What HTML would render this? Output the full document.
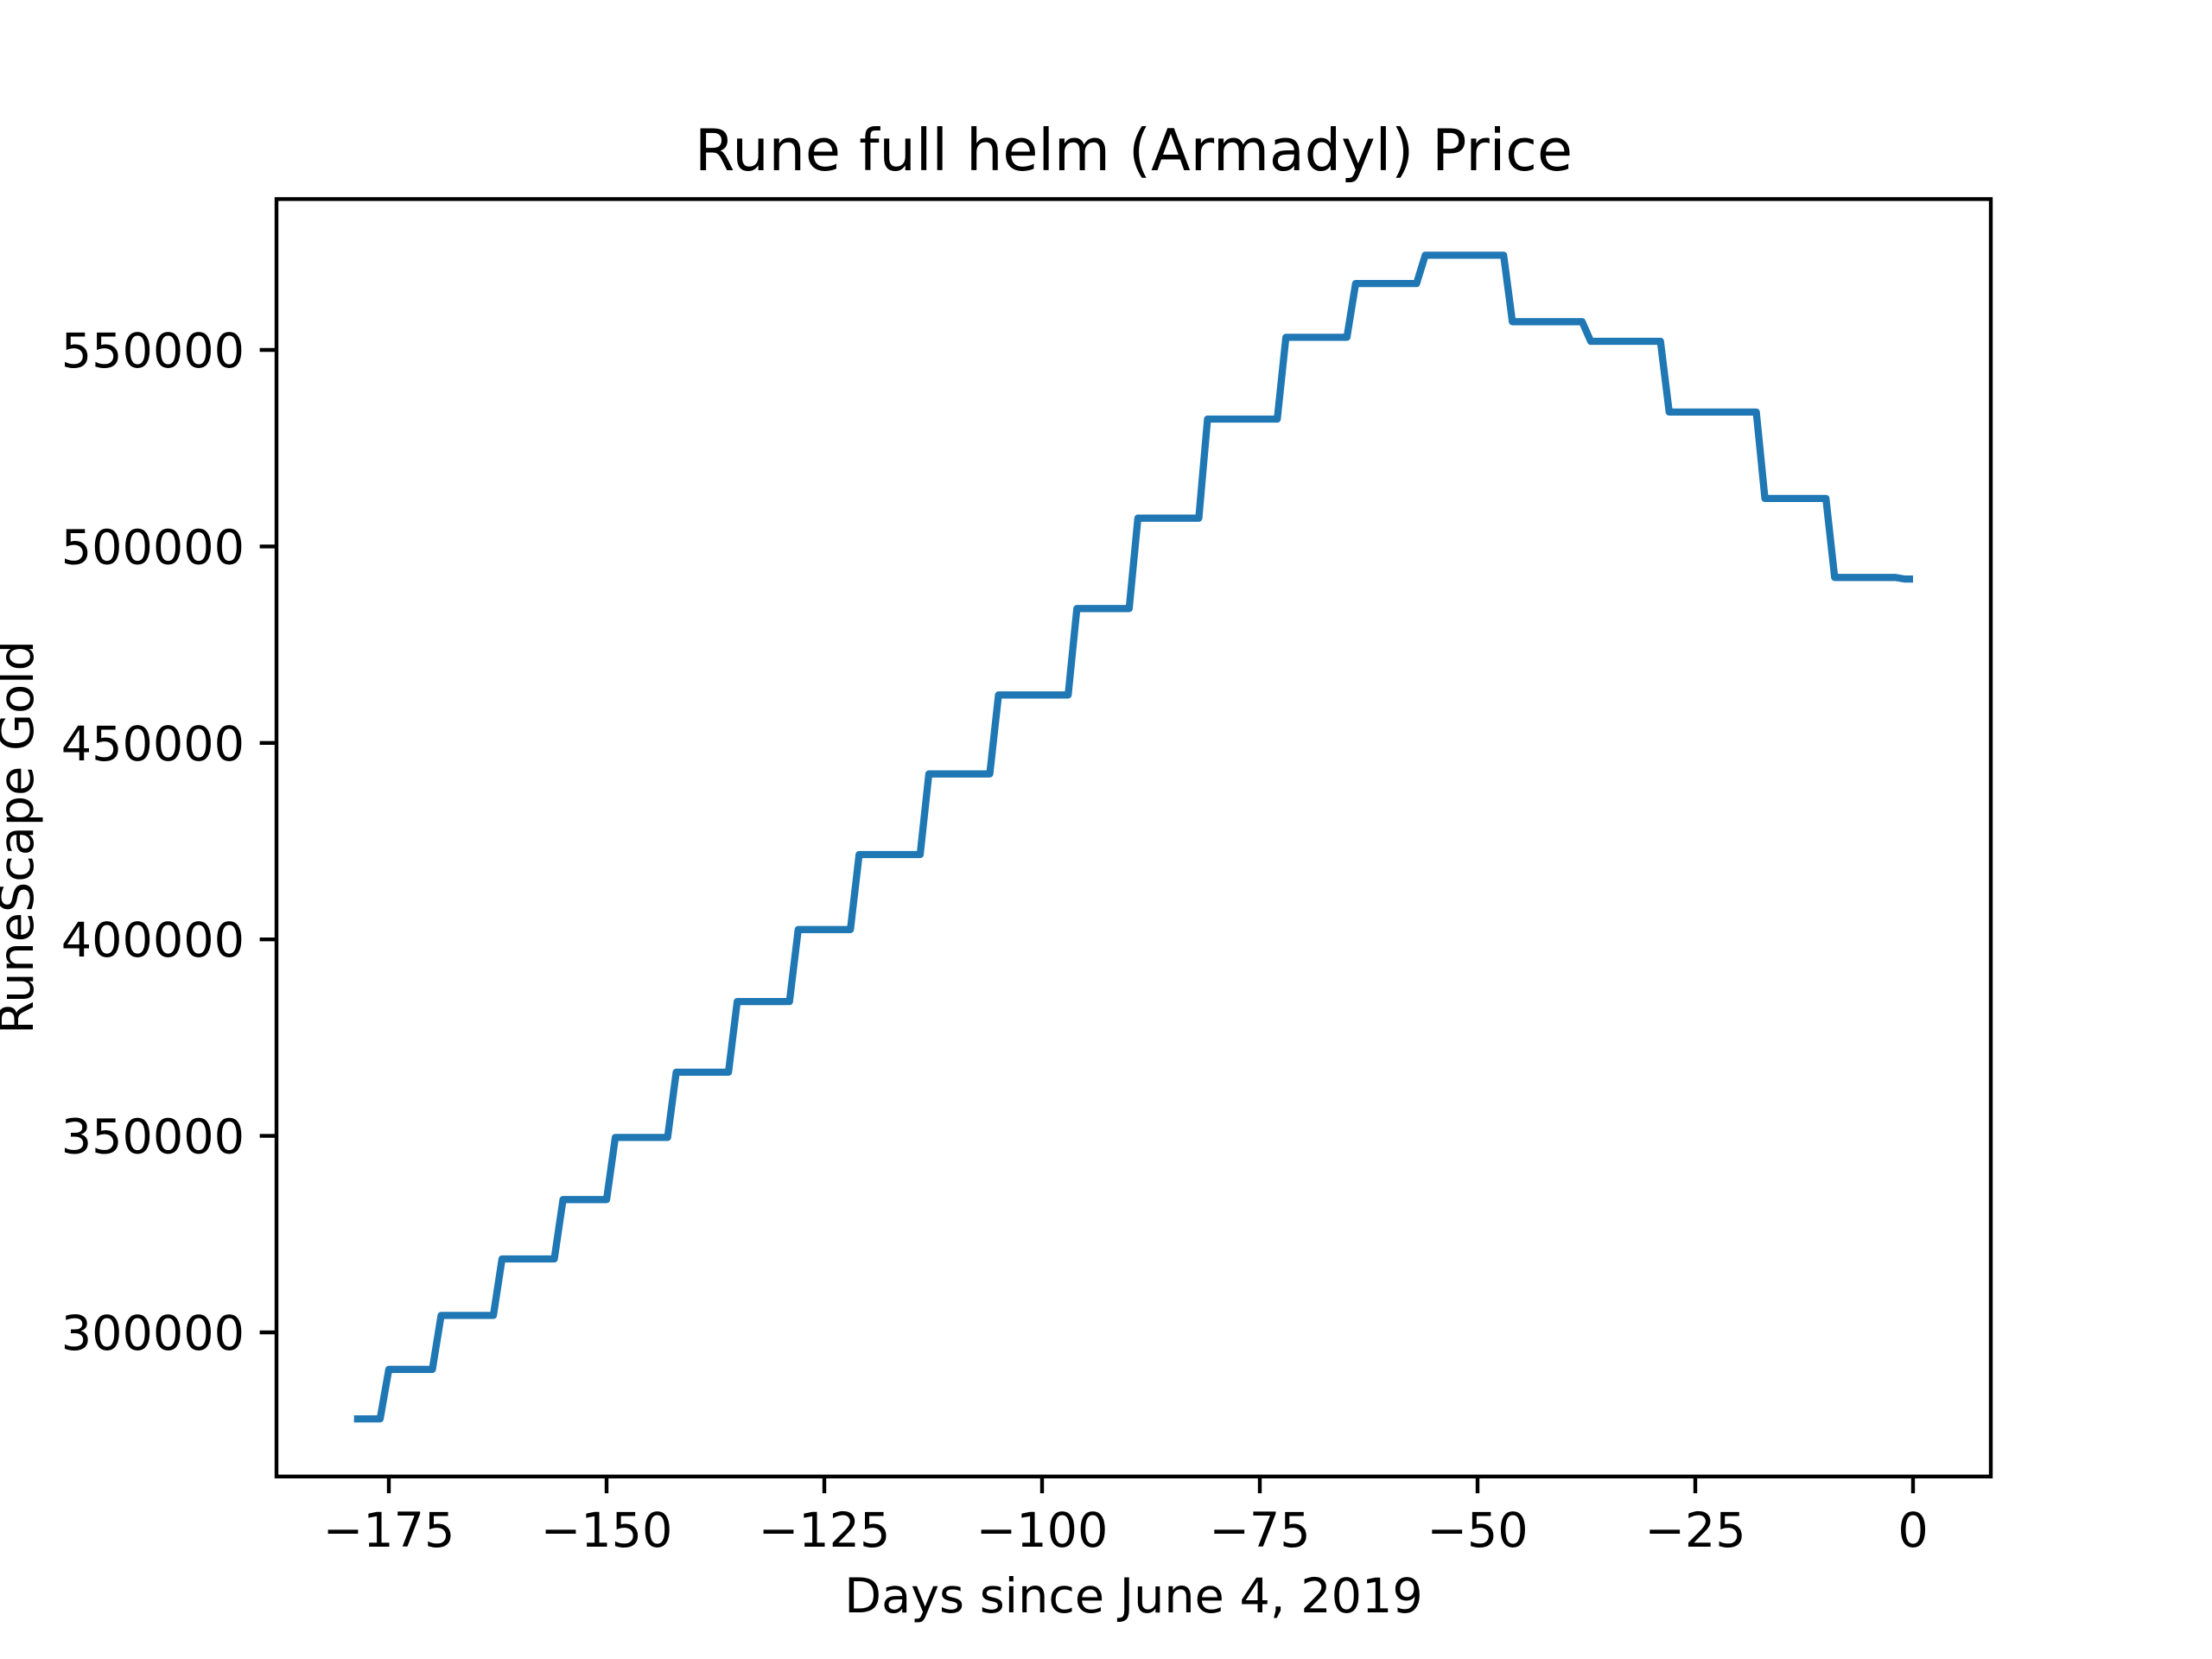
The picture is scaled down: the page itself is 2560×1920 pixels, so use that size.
<!DOCTYPE html>
<html><head><meta charset="utf-8"><style>
html,body{margin:0;padding:0;background:#fff;}
svg{display:block;font-family:"DejaVu Sans","Liberation Sans",sans-serif;}
</style></head><body>
<svg id="chart" width="2560" height="1920" viewBox="0 0 2560 1920" xmlns="http://www.w3.org/2000/svg">
<rect width="2560" height="1920" fill="#fff"/>
<text x="1312" y="197" font-size="66.7" text-anchor="middle">Rune full helm (Armadyl) Price</text>
<text x="1312" y="1866" font-size="55.6" text-anchor="middle">Days since June 4, 2019</text>
<text transform="translate(38,969) rotate(-90)" font-size="55.6" text-anchor="middle">RuneScape Gold</text>
<g id="ticks"></g>
<g id="series"></g>
<rect x="320" y="230.4" width="1984" height="1478.4" fill="none" stroke="#000" stroke-width="4.4"/>
</svg>
<script>
const stepStart = [-179,-175,-169,-162,-155,-149,-142,-135,-128,-121,-113,-105,-96,-89,-81,-72,-64,-56,-46,-37,-28,-17,-9,-1];
const stepEnd   = [-176,-170,-163,-156,-150,-143,-136,-129,-122,-114,-106,-97,-90,-82,-73,-65,-57,-47,-38,-29,-18,-10,-2,0];
const stepPrice = [278000,290600,304300,318700,333800,349600,366200,384200,402500,421600,442100,462200,484200,507200,532400,553200,566900,574100,557200,552200,534200,512200,492100,491700];
const xTicks = [-175,-150,-125,-100,-75,-50,-25,0];
const yTicks = [300000,350000,400000,450000,500000,550000];

const NS = "http://www.w3.org/2000/svg";
function xs(d){ return 2214 + d*10.08; }
function ys(v){ return 405 + (550000 - v)*0.004548; }

const tg = document.getElementById('ticks');
xTicks.forEach(t => {
  const l = document.createElementNS(NS,'line');
  l.setAttribute('x1',xs(t)); l.setAttribute('x2',xs(t));
  l.setAttribute('y1',1708.8); l.setAttribute('y2',1728.2);
  l.setAttribute('stroke','#000'); l.setAttribute('stroke-width','4.4');
  
  
  tg.appendChild(l);
  const tx = document.createElementNS(NS,'text');
  tx.setAttribute('x',xs(t)); tx.setAttribute('y',1790);
  tx.setAttribute('font-size','55.6'); tx.setAttribute('text-anchor','middle');
  tx.textContent = t < 0 ? '\u2212' + Math.abs(t) : String(t);
  
  
  tg.appendChild(tx);
});
yTicks.forEach(t => {
  const l = document.createElementNS(NS,'line');
  l.setAttribute('x1',300.6); l.setAttribute('x2',320);
  l.setAttribute('y1',ys(t)); l.setAttribute('y2',ys(t));
  l.setAttribute('stroke','#000'); l.setAttribute('stroke-width','4.4');
  
  
  tg.appendChild(l);
  const tx = document.createElementNS(NS,'text');
  tx.setAttribute('x',283); tx.setAttribute('y',ys(t)+20);
  tx.setAttribute('font-size','55.6'); tx.setAttribute('text-anchor','end');
  tx.textContent = String(t);
  
  
  tg.appendChild(tx);
});

const pts = [];
for (let i = 0; i < stepStart.length; i++) {
  pts.push(xs(stepStart[i]).toFixed(1) + ',' + ys(stepPrice[i]).toFixed(1));
  pts.push(xs(stepEnd[i]).toFixed(1) + ',' + ys(stepPrice[i]).toFixed(1));
}
const pl = document.createElementNS(NS,'polyline');
pl.setAttribute('points', pts.join(' '));
pl.setAttribute('fill','none'); pl.setAttribute('stroke','#1f77b4');
pl.setAttribute('stroke-width','8.3'); pl.setAttribute('stroke-linejoin','round');


document.getElementById('series').appendChild(pl);
</script>
</body></html>
